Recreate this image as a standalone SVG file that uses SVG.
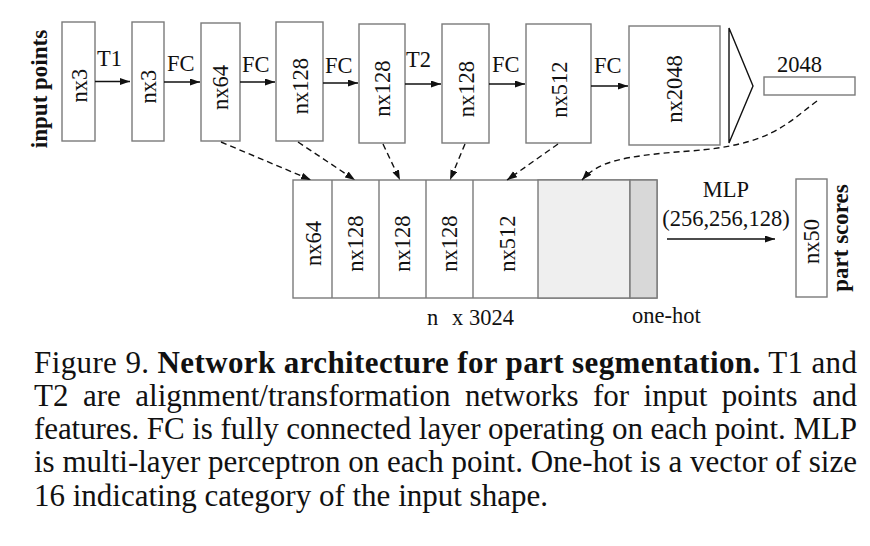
<svg xmlns="http://www.w3.org/2000/svg" width="870" height="546" viewBox="0 0 870 546">
<style>
.bx{fill:#fff;stroke:#7a7a7a;stroke-width:1.4}
.lb{font-family:"Liberation Serif","Times New Roman",serif;font-size:22.5px;fill:#111}
.bd{font-family:"Liberation Serif","Times New Roman",serif;font-size:23px;font-weight:bold;fill:#111}
.ar{stroke:#111;stroke-width:1.4;fill:none;marker-end:url(#ah)}
.da{stroke:#111;stroke-width:1.4;fill:none;stroke-dasharray:6 4;marker-end:url(#ah)}
.cap{font-family:"Liberation Serif","Times New Roman",serif;font-size:31px;fill:#111}
</style>
<defs>
<marker id="ah" markerUnits="userSpaceOnUse" markerWidth="11" markerHeight="8" refX="10" refY="3.5" orient="auto">
<path d="M0,0 L10,3.5 L0,7 z" fill="#111"/>
</marker>
</defs>
<rect width="870" height="546" fill="#fff"/>

<text class="bd" transform="translate(47,89) rotate(-90)" text-anchor="middle">input points</text>

<g id="n1"><rect class="bx" x="62" y="22" width="33" height="119"/><text class="lb" transform="translate(87,85.5) rotate(-90)" text-anchor="middle">nx3</text></g>
<g id="n2"><rect class="bx" x="132" y="22" width="32" height="119"/><text class="lb" transform="translate(156,86.5) rotate(-90)" text-anchor="middle">nx3</text></g>
<g id="n3"><rect class="bx" x="201" y="23" width="39" height="118"/><text class="lb" transform="translate(228,87.5) rotate(-90)" text-anchor="middle">nx64</text></g>
<g id="n4"><rect class="bx" x="276" y="22" width="47" height="119"/><text class="lb" transform="translate(307.5,86) rotate(-90)" text-anchor="middle">nx128</text></g>
<g id="n5"><rect class="bx" x="359" y="24" width="46" height="119"/><text class="lb" transform="translate(390,88.5) rotate(-90)" text-anchor="middle">nx128</text></g>
<g id="n6"><rect class="bx" x="442" y="24" width="47" height="119"/><text class="lb" transform="translate(473.5,89) rotate(-90)" text-anchor="middle">nx128</text></g>
<g id="n7"><rect class="bx" x="526" y="24" width="65" height="119"/><text class="lb" transform="translate(566.5,89.5) rotate(-90)" text-anchor="middle">nx512</text></g>
<g id="n8"><rect class="bx" x="629" y="26" width="91" height="119"/><text class="lb" transform="translate(682,89) rotate(-90)" text-anchor="middle">nx2048</text></g>
<g id="pool"><path d="M729,28 L753,86 L729,143 Z" fill="none" stroke="#111" stroke-width="1.4"/></g>
<g id="gf"><rect class="bx" x="764" y="77" width="91" height="18"/><text class="lb" x="777" y="72">2048</text></g>

<g id="concat">
<rect class="bx" x="293" y="180" width="364" height="118"/>
<rect x="538" y="180" width="92" height="118" fill="#efefef" stroke="#7a7a7a" stroke-width="1.4"/>
<rect x="630" y="180" width="27" height="118" fill="#d8d8d8" stroke="#7a7a7a" stroke-width="1.4"/>
<line x1="332" y1="180" x2="332" y2="298" stroke="#7a7a7a" stroke-width="1.4"/>
<line x1="379" y1="180" x2="379" y2="298" stroke="#7a7a7a" stroke-width="1.4"/>
<line x1="426" y1="180" x2="426" y2="298" stroke="#7a7a7a" stroke-width="1.4"/>
<line x1="473" y1="180" x2="473" y2="298" stroke="#7a7a7a" stroke-width="1.4"/>
<text class="lb" transform="translate(321,243.5) rotate(-90)" text-anchor="middle">nx64</text>
<text class="lb" transform="translate(363,243.5) rotate(-90)" text-anchor="middle">nx128</text>
<text class="lb" transform="translate(410,243.5) rotate(-90)" text-anchor="middle">nx128</text>
<text class="lb" transform="translate(457,243.5) rotate(-90)" text-anchor="middle">nx128</text>
<text class="lb" transform="translate(515,243.5) rotate(-90)" text-anchor="middle">nx512</text>
<text class="lb" x="427" y="325">n</text><text class="lb" x="452" y="325">x 3024</text>
<text class="lb" x="632" y="323">one-hot</text>
</g>

<g id="out"><rect class="bx" x="796" y="179" width="31" height="118"/><text class="lb" transform="translate(819,241.5) rotate(-90)" text-anchor="middle">nx50</text></g>
<text class="bd" transform="translate(848,238) rotate(-90)" text-anchor="middle">part scores</text>

<g id="connectors">
<line class="ar" x1="95" y1="81.5" x2="130" y2="81.5"/>
<line class="ar" x1="164" y1="82" x2="200" y2="82"/>
<line class="ar" x1="240" y1="82" x2="275" y2="82"/>
<line class="ar" x1="323" y1="83" x2="358" y2="83"/>
<line class="ar" x1="405" y1="84" x2="441" y2="84"/>
<line class="ar" x1="489" y1="84" x2="525" y2="84"/>
<line class="ar" x1="591" y1="86" x2="628" y2="86"/>
<line class="ar" x1="667" y1="239" x2="775" y2="239"/>
<path class="da" d="M221,142 L311,180"/>
<path class="da" d="M298,142 L355,180"/>
<path class="da" d="M383,144 L400,180"/>
<path class="da" d="M465,144 L450,180"/>
<path class="da" d="M558,144 L507,180"/>
<path class="da" d="M817,101 C785,125 770,145 690,151 C620,156 598,162 582,180"/>
<text class="lb" x="97" y="66">T1</text>
<text class="lb" x="167" y="71">FC</text>
<text class="lb" x="242" y="72">FC</text>
<text class="lb" x="325" y="73">FC</text>
<text class="lb" x="406" y="67">T2</text>
<text class="lb" x="492" y="72">FC</text>
<text class="lb" x="594" y="73">FC</text>
<text class="lb" x="726" y="197" text-anchor="middle">MLP</text>
<text class="lb" x="726" y="226" text-anchor="middle">(256,256,128)</text>
</g>

<g id="caption">
<text class="cap" x="34" y="373" textLength="823" lengthAdjust="spacing">Figure 9. <tspan font-weight="bold">Network architecture for part segmentation.</tspan> T1 and</text>
<text class="cap" y="406"><tspan x="34">T2</tspan><tspan x="83">are</tspan><tspan x="135.3">alignment/transformation</tspan><tspan x="465">networks</tspan><tspan x="593">for</tspan><tspan x="643.6">input</tspan><tspan x="721.8">points</tspan><tspan x="812.2">and</tspan></text>
<text class="cap" x="34" y="439" textLength="823" lengthAdjust="spacing">features. FC is fully connected layer operating on each point. MLP</text>
<text class="cap" x="34" y="472" textLength="823" lengthAdjust="spacing">is multi-layer perceptron on each point. One-hot is a vector of size</text>
<text class="cap" x="34" y="506">16 indicating category of the input shape.</text>
</g>
</svg>
